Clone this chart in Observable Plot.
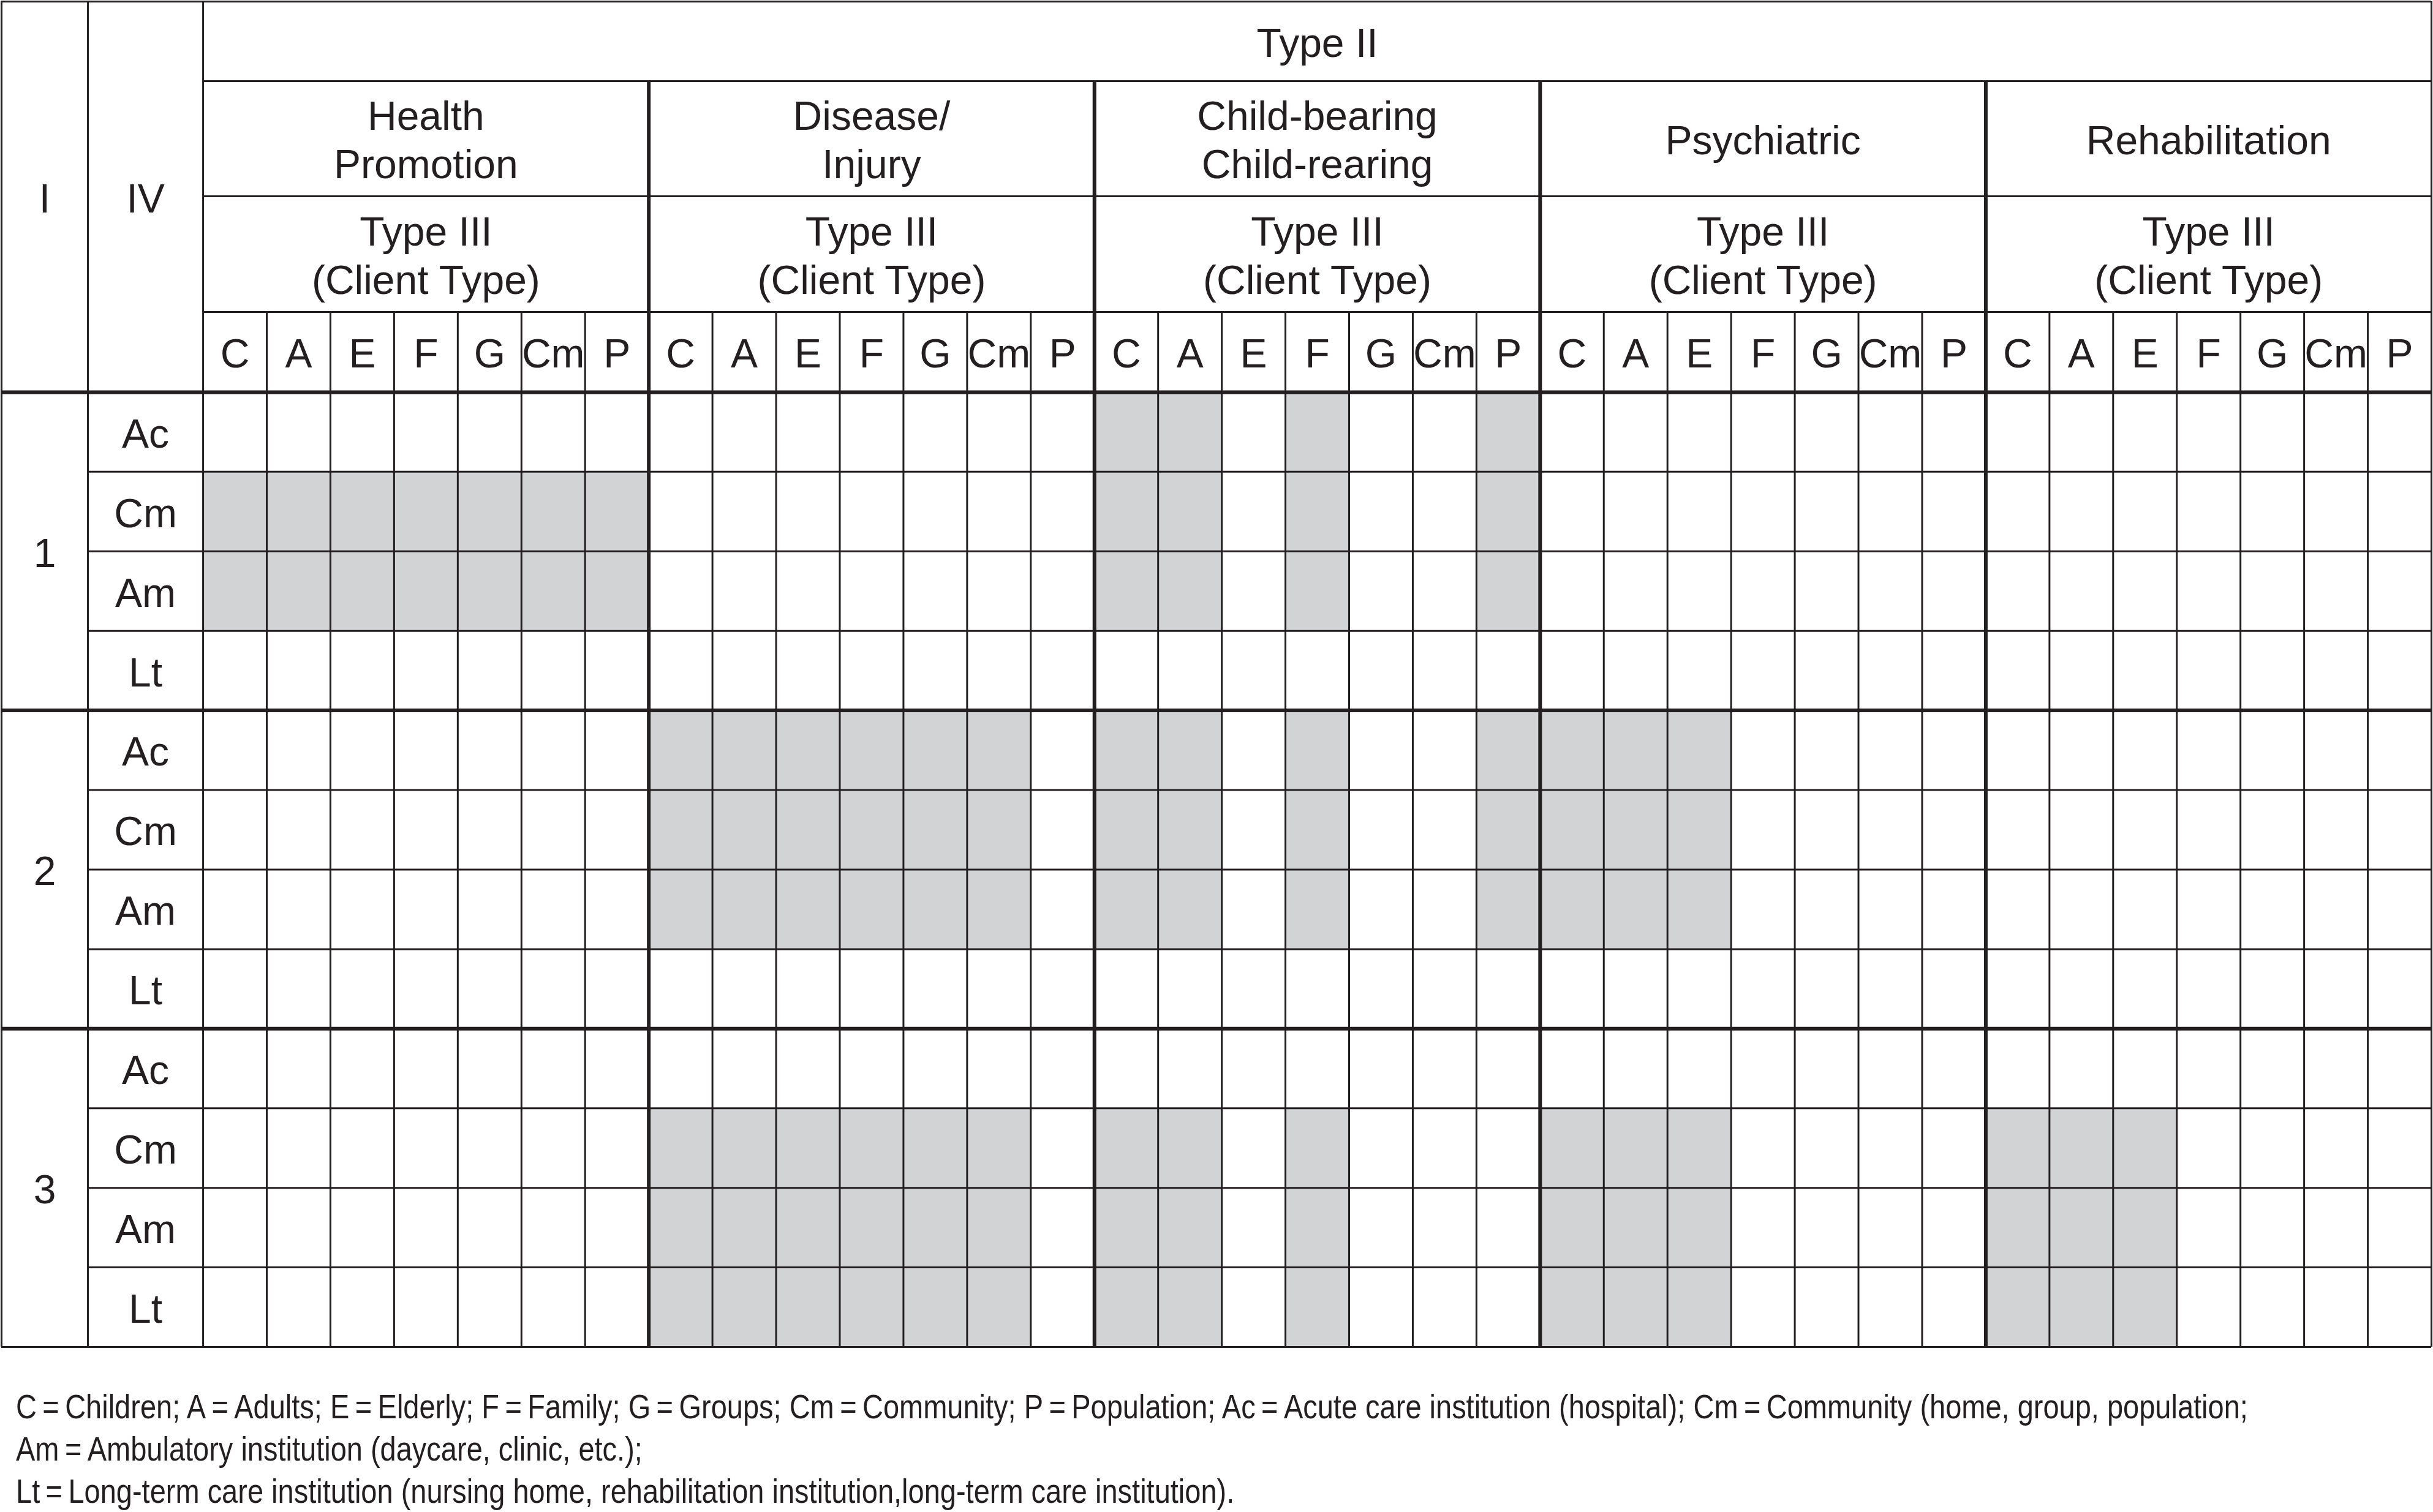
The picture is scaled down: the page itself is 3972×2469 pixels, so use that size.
<!DOCTYPE html>
<html>
<head>
<meta charset="utf-8">
<script src="https://cdn.jsdelivr.net/npm/d3@7"></script>
<script src="https://cdn.jsdelivr.net/npm/@observablehq/plot@0.6"></script>
<style>
  body { margin: 0; background: #fff; }
  svg { display: block; }
</style>
</head>
<body>
<div id="chart"></div>
<script>
// ---------------- DATA ----------------
const levels = ["1", "2", "3"];                         // Type I
const settings = ["Ac", "Cm", "Am", "Lt"];              // Type IV
const clientTypes = ["C", "A", "E", "F", "G", "Cm", "P"]; // Type III
const focusAreas = ["Health\nPromotion", "Disease/\nInjury", "Child-bearing\nChild-rearing", "Psychiatric", "Rehabilitation"]; // Type II
const typeIIHeader = "Type II";
const typeIIIHeader = "Type III\n(Client Type)";
const cornerHeaders = ["I", "IV"];

// shaded blocks: focus area index, level, settings rows, client-type columns
const shadedBlocks = [
  {area: 0, level: "1", settings: ["Cm", "Am"],       clients: ["C", "A", "E", "F", "G", "Cm", "P"]},
  {area: 1, level: "2", settings: ["Ac", "Cm", "Am"], clients: ["C", "A", "E", "F", "G", "Cm"]},
  {area: 1, level: "3", settings: ["Cm", "Am", "Lt"], clients: ["C", "A", "E", "F", "G", "Cm"]},
  {area: 2, level: "1", settings: ["Ac", "Cm", "Am"], clients: ["C", "A", "F", "P"]},
  {area: 2, level: "2", settings: ["Ac", "Cm", "Am"], clients: ["C", "A", "F", "P"]},
  {area: 2, level: "3", settings: ["Cm", "Am", "Lt"], clients: ["C", "A", "F"]},
  {area: 3, level: "2", settings: ["Ac", "Cm", "Am"], clients: ["C", "A", "E"]},
  {area: 3, level: "3", settings: ["Cm", "Am", "Lt"], clients: ["C", "A", "E"]},
  {area: 4, level: "3", settings: ["Cm", "Am", "Lt"], clients: ["C", "A", "E"]}
];

const captionLines = [
  "C\u2009=\u2009Children; A\u2009=\u2009Adults; E\u2009=\u2009Elderly; F\u2009=\u2009Family; G\u2009=\u2009Groups; Cm\u2009=\u2009Community; P\u2009=\u2009Population; Ac\u2009=\u2009Acute care institution (hospital); Cm\u2009=\u2009Community (home, group, population;",
  "Am\u2009=\u2009Ambulatory institution (daycare, clinic, etc.);",
  "Lt\u2009=\u2009Long-term care institution (nursing home, rehabilitation institution,long-term care institution)."
];

// ---------------- LAYOUT ----------------
const W = 3972, H = 2204;
const colIWidth = 1.357, colIVWidth = 1.809;             // in client-column units
const headerRowHeights = [1.0, 1.447, 1.455, 1.008];      // in data-row units
const nPer = clientTypes.length;
const nCols = focusAreas.length * nPer;
const nRows = levels.length * settings.length;
const xLeft = -(colIWidth + colIVWidth);
const xIV = -colIVWidth;
const hEdges = [0];
headerRowHeights.forEach(h => hEdges.push(hEdges[hEdges.length - 1] + h));
const hdr = hEdges[hEdges.length - 1];
const yBottom = hdr + nRows;

const ink = "#231f20";
const shade = "#d1d3d4";
const font = "Liberation Sans, Arial, Helvetica, sans-serif";
const fs = 66;
const thin = 3, thick = 6;

// cells
const cells = [];
shadedBlocks.forEach(b => {
  const li = levels.indexOf(b.level);
  b.settings.forEach(s => {
    b.clients.forEach(c => {
      cells.push({col: b.area * nPer + clientTypes.indexOf(c), row: li * settings.length + settings.indexOf(s)});
    });
  });
});

// vertical lines
const vThin = [
  {x: xLeft, y1: 0, y2: yBottom},
  {x: xIV, y1: 0, y2: yBottom},
  {x: 0, y1: 0, y2: yBottom},
  {x: nCols, y1: 0, y2: yBottom}
];
const vThick = [];
for (let k = 1; k < nCols; k++) {
  if (k % nPer === 0) vThick.push({x: k, y1: hEdges[1], y2: yBottom});
  else vThin.push({x: k, y1: hEdges[3], y2: yBottom});
}
// horizontal lines
const hThin = [
  {y: 0, x1: xLeft, x2: nCols},
  {y: yBottom, x1: xLeft, x2: nCols},
  {y: hEdges[1], x1: 0, x2: nCols},
  {y: hEdges[2], x1: 0, x2: nCols},
  {y: hEdges[3], x1: 0, x2: nCols}
];
const hThick = [{y: hdr, x1: xLeft, x2: nCols}];
for (let r = 1; r < nRows; r++) {
  if (r % settings.length === 0) hThick.push({y: hdr + r, x1: xLeft, x2: nCols});
  else hThin.push({y: hdr + r, x1: xIV, x2: nCols});
}

// texts
const texts = [];
texts.push({x: nCols / 2, y: (hEdges[0] + hEdges[1]) / 2, t: typeIIHeader});
focusAreas.forEach((a, i) => {
  texts.push({x: i * nPer + nPer / 2, y: (hEdges[1] + hEdges[2]) / 2, t: a});
  texts.push({x: i * nPer + nPer / 2, y: (hEdges[2] + hEdges[3]) / 2, t: typeIIIHeader});
  clientTypes.forEach((c, j) => {
    texts.push({x: i * nPer + j + 0.5, y: (hEdges[3] + hEdges[4]) / 2, t: c});
  });
});
texts.push({x: (xLeft + xIV) / 2, y: hdr / 2, t: cornerHeaders[0]});
texts.push({x: xIV / 2, y: hdr / 2, t: cornerHeaders[1]});
levels.forEach((l, li) => {
  texts.push({x: (xLeft + xIV) / 2, y: hdr + li * settings.length + settings.length / 2, t: l});
  settings.forEach((s, si) => {
    texts.push({x: xIV / 2, y: hdr + li * settings.length + si + 0.5, t: s});
  });
});

const chart = Plot.plot({
  width: W,
  height: H,
  margin: 0,
  style: {fontFamily: font, background: "#fff"},
  x: {type: "linear", domain: [xLeft, nCols], range: [2, 3969], axis: null},
  y: {type: "linear", domain: [0, yBottom], range: [2, 2199], axis: null},
  marks: [
    Plot.rect(cells, {x1: d => d.col, x2: d => d.col + 1, y1: d => hdr + d.row, y2: d => hdr + d.row + 1, fill: shade}),
    Plot.ruleX(vThin, {x: "x", y1: "y1", y2: "y2", stroke: ink, strokeWidth: thin}),
    Plot.ruleY(hThin, {y: "y", x1: "x1", x2: "x2", stroke: ink, strokeWidth: thin}),
    Plot.ruleX(vThick, {x: "x", y1: "y1", y2: "y2", stroke: ink, strokeWidth: thick}),
    Plot.ruleY(hThick, {y: "y", x1: "x1", x2: "x2", stroke: ink, strokeWidth: thick}),
    Plot.text(texts, {x: "x", y: "y", text: "t", fill: ink, fontSize: fs, fontFamily: font, lineHeight: 1.2, textAnchor: "middle", lineAnchor: "middle"})
  ]
});
document.getElementById("chart").appendChild(chart);

// caption below the chart (condensed like the original typesetting)
const capHeight = 2469 - H;
const capX = 26;
const capBaselines = [112, 181, 250];
const capLine1Width = 3645;   // width of the first caption line in the original
const capFontSize = 55;       // apparent size of the caption glyphs
const cap = d3.create("svg").attr("width", W).attr("height", capHeight)
  .style("font-family", font).style("background", "#fff");
document.getElementById("chart").appendChild(cap.node());
// measure natural width to derive the condensed setting
const probe = cap.append("text").attr("font-size", capFontSize).text(captionLines[0]);
const k = capLine1Width / probe.node().getComputedTextLength();
probe.remove();
captionLines.forEach((line, i) => {
  cap.append("g")
    .attr("transform", `translate(${capX},${capBaselines[i]}) scale(1,${1 / k})`)
    .append("text")
    .attr("font-size", capFontSize * k)
    .attr("fill", ink)
    .text(line);
});
</script>
</body>
</html>
